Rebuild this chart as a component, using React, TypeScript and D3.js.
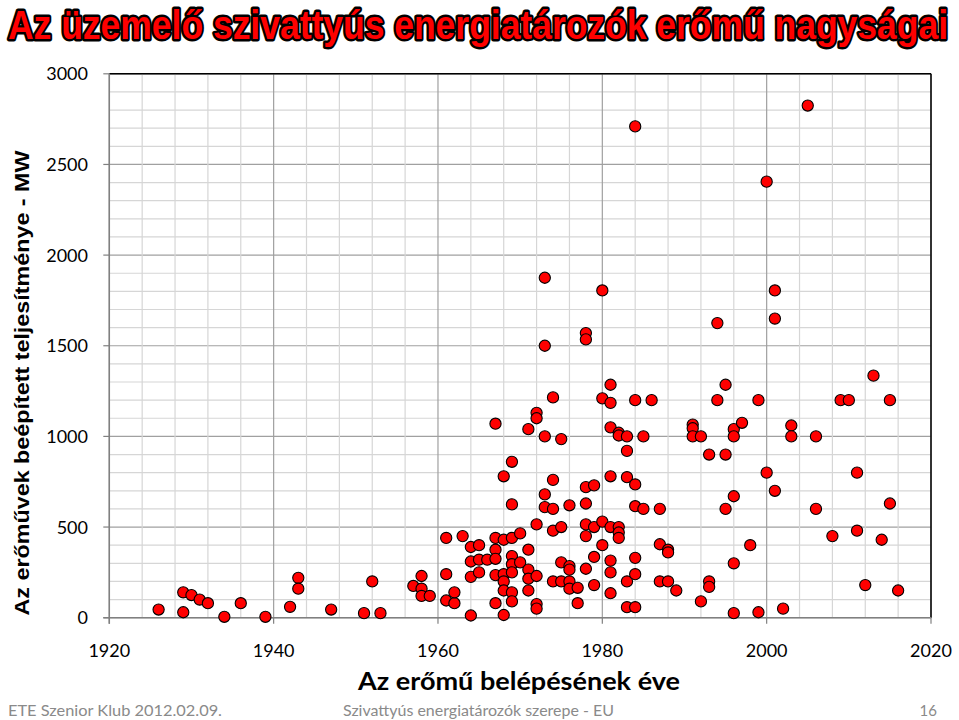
import React from "react";
import * as d3 from "d3";

const years = [
  1926, 1929, 1929, 1930, 1931, 1932, 1934, 1936, 1939, 1942, 1943, 1943, 1947, 1951, 1952, 1953,
  1957, 1958, 1958, 1958, 1959, 1961, 1961, 1961, 1962, 1962, 1963, 1964, 1964, 1964, 1964, 1965,
  1965, 1965, 1966, 1967, 1967, 1967, 1967, 1967, 1967, 1968, 1968, 1968, 1968, 1968, 1968, 1969,
  1969, 1969, 1969, 1969, 1969, 1969, 1969, 1970, 1970, 1971, 1971, 1971, 1971, 1971, 1972, 1972,
  1972, 1972, 1972, 1972, 1973, 1973, 1973, 1973, 1973, 1974, 1974, 1974, 1974, 1974, 1975, 1975,
  1975, 1975, 1976, 1976, 1976, 1976, 1976, 1977, 1977, 1978, 1978, 1978, 1978, 1978, 1978, 1978,
  1979, 1979, 1979, 1979, 1980, 1980, 1980, 1980, 1981, 1981, 1981, 1981, 1981, 1981, 1981, 1981,
  1982, 1982, 1982, 1982, 1982, 1983, 1983, 1983, 1983, 1983, 1984, 1984, 1984, 1984, 1984, 1984,
  1984, 1985, 1985, 1986, 1987, 1987, 1987, 1988, 1988, 1988, 1989, 1991, 1991, 1991, 1992, 1992,
  1993, 1993, 1993, 1994, 1994, 1995, 1995, 1995, 1996, 1996, 1996, 1996, 1996, 1997, 1998, 1999,
  1999, 2000, 2000, 2001, 2001, 2001, 2002, 2003, 2003, 2005, 2006, 2006, 2008, 2009, 2010, 2011,
  2011, 2012, 2013, 2014, 2015, 2015, 2016,
];

const capacityMW = [
  45, 140, 30, 125, 100, 80, 5, 80, 5, 60, 220, 160, 45, 25, 200, 25,
  175, 230, 160, 120, 120, 440, 240, 95, 80, 140, 450, 390, 310, 225, 12, 400,
  320, 250, 320, 1070, 440, 375, 325, 235, 80, 780, 430, 240, 200, 150, 15, 860,
  625, 440, 340, 295, 250, 140, 90, 465, 305, 1040, 375, 265, 215, 150, 1130, 1100,
  515, 230, 75, 50, 1875, 1500, 1000, 680, 610, 1215, 760, 600, 480, 200, 985, 500,
  305, 200, 620, 285, 265, 200, 160, 165, 80, 1570, 1535, 720, 630, 515, 450, 270,
  730, 500, 335, 180, 1805, 1210, 530, 400, 1285, 1185, 1050, 780, 500, 315, 250, 135,
  1020, 1005, 500, 470, 440, 1000, 920, 775, 200, 58, 2710, 1200, 735, 615, 330, 240,
  58, 1000, 600, 1200, 600, 405, 200, 375, 360, 200, 150, 1065, 1045, 1000, 1000, 90,
  900, 200, 170, 1625, 1200, 1285, 900, 600, 1040, 1000, 670, 300, 25, 1075, 400, 1200,
  30, 2405, 800, 1805, 1650, 700, 50, 1060, 1000, 2825, 1000, 600, 450, 1200, 1200, 800,
  480, 180, 1335, 430, 1200, 630, 150,
];

const xTicks = [1920, 1940, 1960, 1980, 2000, 2020];
const yTicks = [0, 500, 1000, 1500, 2000, 2500, 3000];

const titleText = "Az üzemelő szivattyús energiatározók erőmű nagyságai";
const yTitle = "Az erőművek beépített teljesítménye - MW";
const xTitle = "Az erőmű belépésének éve";
const footerLeft = "ETE Szenior Klub 2012.02.09.";
const footerMid = "Szivattyús energiatározók szerepe - EU";
const footerRight = "16";

const W = 959;
const H = 720;
const L = 109.3;
const R = 931;
const T = 73.8;
const B = 617.7;

export default function App() {
  const x = d3.scaleLinear().domain([1920, 2020]).range([L, R]);
  const y = d3.scaleLinear().domain([0, 3000]).range([B, T]);
  const minorX = d3.range(1920, 2021, 4);
  const minorY = d3.range(0, 3001, 100);
  const points = years.map((yr, i) => ({ yr, mw: capacityMW[i] }));
  const font = "Lato, 'Open Sans', sans-serif";

  return (
    <svg width={W} height={H} style={{ position: "absolute", left: 0, top: 0, background: "#fff" }}>
      <rect x={0} y={0} width={W} height={H} fill="#fff" />
      <g transform="translate(8, 39) scale(1, 1.25)">
        <text
          x={0}
          y={0}
          fontFamily="'Liberation Sans', Arial, sans-serif"
          fontWeight={700}
          fontSize={32}
          textLength={940}
          lengthAdjust="spacingAndGlyphs"
          fill="#ff0000"
          stroke="#000"
          strokeWidth={3.8}
          strokeLinejoin="round"
          style={{ paintOrder: "stroke" }}
        >
          {titleText}
        </text>
      </g>

      {/* grid */}
      {minorY.map((v) => (
        <line key={"gy" + v} x1={L} x2={R} y1={y(v)} y2={y(v)}
          stroke={v % 500 === 0 ? "#a0a0a0" : "#d6d6d6"} strokeWidth={1.2} />
      ))}
      {minorX.map((v) => (
        <line key={"gx" + v} x1={x(v)} x2={x(v)} y1={T} y2={B}
          stroke={v % 20 === 0 ? "#a0a0a0" : "#d6d6d6"} strokeWidth={1.2} />
      ))}

      {/* frame */}
      <line x1={L} x2={R} y1={T} y2={T} stroke="#000" strokeWidth={1.5} />
      <line x1={R} x2={R} y1={T} y2={B} stroke="#000" strokeWidth={1.5} />
      <line x1={L} x2={L} y1={T} y2={B + 6} stroke="#808080" strokeWidth={1.5} />
      <line x1={L - 6} x2={R} y1={B} y2={B} stroke="#808080" strokeWidth={1.5} />

      {/* ticks */}
      {yTicks.map((v) => (
        <line key={"ty" + v} x1={L - 6} x2={L} y1={y(v)} y2={y(v)} stroke="#808080" strokeWidth={1.2} />
      ))}
      {xTicks.map((v) => (
        <line key={"tx" + v} x1={x(v)} x2={x(v)} y1={B} y2={B + 6} stroke="#808080" strokeWidth={1.2} />
      ))}

      {yTicks.map((v) => (
        <text key={"ly" + v} x={88} y={y(v) + 6.5} textAnchor="end" fontFamily={font} fontSize={18} fill="#000">
          {v}
        </text>
      ))}
      {xTicks.map((v) => (
        <text key={"lx" + v} x={x(v)} y={657} textAnchor="middle" fontFamily={font} fontSize={18} fill="#000">
          {v}
        </text>
      ))}

      {/* points */}
      {points.map((p, i) => (
        <circle key={i} cx={x(p.yr)} cy={y(p.mw)} r={5.6} fill="#ff0000" stroke="#000" strokeWidth={1.1} />
      ))}

      <text
        transform={`translate(29, 383) rotate(-90)`}
        textAnchor="middle"
        fontFamily="'Liberation Sans', Arial, sans-serif"
        fontWeight={700}
        fontSize={20}
        textLength={465}
        lengthAdjust="spacingAndGlyphs"
        fill="#000"
      >
        {yTitle}
      </text>

      <text x={519} y={690} textAnchor="middle" fontFamily={font} fontWeight={700} fontSize={24}
        textLength={322} lengthAdjust="spacingAndGlyphs" fill="#000">
        {xTitle}
      </text>

      <text x={8} y={716} fontFamily={font} fontSize={15} fill="#8a8a8a" textLength={214} lengthAdjust="spacingAndGlyphs">
        {footerLeft}
      </text>
      <text x={343} y={716} fontFamily={font} fontSize={15} fill="#8a8a8a" textLength={271} lengthAdjust="spacingAndGlyphs">
        {footerMid}
      </text>
      <text x={937} y={716} textAnchor="end" fontFamily={font} fontSize={15} fill="#8a8a8a">
        {footerRight}
      </text>
    </svg>
  );
}
